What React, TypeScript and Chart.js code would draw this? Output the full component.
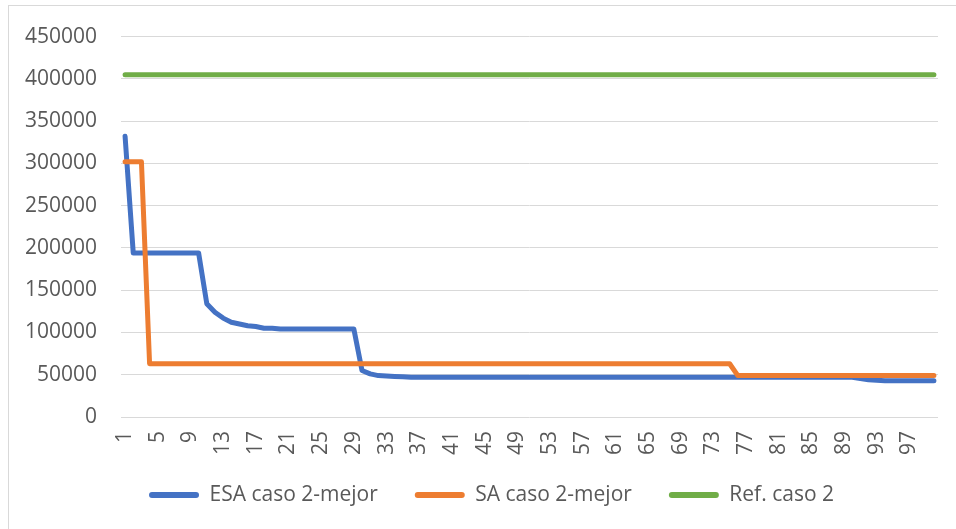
import React, { useEffect, useRef } from "react";
import { Chart, registerables } from "chart.js";

Chart.register(...registerables);

const categories = [
  1, 2, 3, 4, 5, 6, 7, 8, 9, 10,
  11, 12, 13, 14, 15, 16, 17, 18, 19, 20,
  21, 22, 23, 24, 25, 26, 27, 28, 29, 30,
  31, 32, 33, 34, 35, 36, 37, 38, 39, 40,
  41, 42, 43, 44, 45, 46, 47, 48, 49, 50,
  51, 52, 53, 54, 55, 56, 57, 58, 59, 60,
  61, 62, 63, 64, 65, 66, 67, 68, 69, 70,
  71, 72, 73, 74, 75, 76, 77, 78, 79, 80,
  81, 82, 83, 84, 85, 86, 87, 88, 89, 90,
  91, 92, 93, 94, 95, 96, 97, 98, 99, 100,
];

const esaValues = [
  332000, 194000, 194000, 194000, 194000, 194000, 194000, 194000, 194000, 194000,
  134000, 124000, 117000, 112000, 110000, 108000, 107000, 105000, 105000, 104000,
  104000, 104000, 104000, 104000, 104000, 104000, 104000, 104000, 104000, 55000,
  51000, 49000, 48500, 48000, 47500, 47000, 47000, 47000, 47000, 47000,
  47000, 47000, 47000, 47000, 47000, 47000, 47000, 47000, 47000, 47000,
  47000, 47000, 47000, 47000, 47000, 47000, 47000, 47000, 47000, 47000,
  47000, 47000, 47000, 47000, 47000, 47000, 47000, 47000, 47000, 47000,
  47000, 47000, 47000, 47000, 47000, 47000, 47000, 47000, 47000, 47000,
  47000, 47000, 47000, 47000, 47000, 47000, 47000, 47000, 47000, 47000,
  45500, 44000, 43500, 43000, 43000, 43000, 43000, 43000, 43000, 43000,
];

const saValues = [
  302000, 302000, 302000, 63000, 63000, 63000, 63000, 63000, 63000, 63000,
  63000, 63000, 63000, 63000, 63000, 63000, 63000, 63000, 63000, 63000,
  63000, 63000, 63000, 63000, 63000, 63000, 63000, 63000, 63000, 63000,
  63000, 63000, 63000, 63000, 63000, 63000, 63000, 63000, 63000, 63000,
  63000, 63000, 63000, 63000, 63000, 63000, 63000, 63000, 63000, 63000,
  63000, 63000, 63000, 63000, 63000, 63000, 63000, 63000, 63000, 63000,
  63000, 63000, 63000, 63000, 63000, 63000, 63000, 63000, 63000, 63000,
  63000, 63000, 63000, 63000, 63000, 49000, 49000, 49000, 49000, 49000,
  49000, 49000, 49000, 49000, 49000, 49000, 49000, 49000, 49000, 49000,
  49000, 49000, 49000, 49000, 49000, 49000, 49000, 49000, 49000, 49000,
];

const refValues = [
  405000, 405000, 405000, 405000, 405000, 405000, 405000, 405000, 405000, 405000,
  405000, 405000, 405000, 405000, 405000, 405000, 405000, 405000, 405000, 405000,
  405000, 405000, 405000, 405000, 405000, 405000, 405000, 405000, 405000, 405000,
  405000, 405000, 405000, 405000, 405000, 405000, 405000, 405000, 405000, 405000,
  405000, 405000, 405000, 405000, 405000, 405000, 405000, 405000, 405000, 405000,
  405000, 405000, 405000, 405000, 405000, 405000, 405000, 405000, 405000, 405000,
  405000, 405000, 405000, 405000, 405000, 405000, 405000, 405000, 405000, 405000,
  405000, 405000, 405000, 405000, 405000, 405000, 405000, 405000, 405000, 405000,
  405000, 405000, 405000, 405000, 405000, 405000, 405000, 405000, 405000, 405000,
  405000, 405000, 405000, 405000, 405000, 405000, 405000, 405000, 405000, 405000,
];

const seriesNames = ["ESA caso 2-mejor", "SA caso 2-mejor", "Ref. caso 2"];
const seriesColors = ["#4472C4", "#ED7D31", "#70AD47"];

const yMin = 0;
const yMax = 450000;
const yStep = 50000;

const FONT = "'Open Sans', 'Liberation Sans', sans-serif";
const TEXT = "#595959";
const GRID = "#D9D9D9";

const legendShift = {
  id: "legendShift",
  afterLayout(chart: any) {
    const l = chart.legend;
    if (l) {
      l.left += 45;
      l.top -= 17.5;
      l.bottom -= 17.5;
    }
  },
};

export default function App() {
  const ref = useRef<HTMLCanvasElement | null>(null);

  useEffect(() => {
    if (!ref.current) return;
    const mk = (i: number, data: number[], order: number) => ({
      label: seriesNames[i],
      data,
      borderColor: seriesColors[i],
      backgroundColor: seriesColors[i],
      borderWidth: 5,
      pointRadius: 0,
      pointHoverRadius: 0,
      tension: 0,
      borderCapStyle: "round" as const,
      borderJoinStyle: "round" as const,
      fill: false,
      order,
    });
    const chart = new Chart(ref.current, {
      type: "line",
      data: {
        labels: categories.map(String),
        datasets: [mk(0, esaValues, 3), mk(1, saValues, 2), mk(2, refValues, 1)],
      },
      plugins: [legendShift],
      options: {
        animation: false,
        responsive: false,
        maintainAspectRatio: false,
        layout: { padding: { top: 34, left: 0, right: 18, bottom: 4 } },
        font: { family: FONT, size: 21 },
        scales: {
          x: {
            type: "category",
            offset: true,
            grid: { display: false, drawTicks: false },
            border: { display: false },
            ticks: {
              autoSkip: false,
              minRotation: 90,
              maxRotation: 90,
              padding: 14,
              color: TEXT,
              font: { family: FONT, size: 21 },
              callback: function (this: any, value: any, index: number) {
                return index % 4 === 0 ? this.getLabelForValue(value) : "";
              },
            },
            afterFit: (s: any) => {
              s.height = 48;
              s.paddingLeft = 0;
              s.paddingRight = 0;
            },
          },
          y: {
            min: yMin,
            max: yMax,
            grid: { color: GRID, lineWidth: 1, drawTicks: false },
            border: { display: false },
            ticks: {
              stepSize: yStep,
              padding: 24,
              color: TEXT,
              font: { family: FONT, size: 21 },
              callback: (v: any) => String(v),
            },
            afterFit: (s: any) => {
              s.width = 121;
            },
          },
        },
        plugins: {
          tooltip: { enabled: false },
          legend: {
            position: "bottom",
            maxHeight: 60,
            labels: {
              color: TEXT,
              font: { family: FONT, size: 21 },
              boxWidth: 50,
              boxHeight: 6,
              padding: 37,
              sort: (a: any, b: any) => a.datasetIndex - b.datasetIndex,
              generateLabels: (c: any) => {
                const items = Chart.defaults.plugins.legend.labels.generateLabels(c);
                return items.map((it: any) => ({
                  ...it,
                  fillStyle: seriesColors[it.datasetIndex],
                  strokeStyle: seriesColors[it.datasetIndex],
                  lineWidth: 0,
                  borderRadius: 3,
                }));
              },
              useBorderRadius: true,
              borderRadius: 3,
            },
          },
        },
      } as any,
    });
    return () => chart.destroy();
  }, []);

  return (
    <div style={{ position: "fixed", left: 0, top: 0, width: 956, height: 529, background: "#fff" }}>
      <canvas ref={ref} width={956} height={529} style={{ position: "absolute", left: 0, top: 0, width: 956, height: 529 }} />
      <div style={{ position: "absolute", left: 8, top: 5, width: 948, height: 524, borderLeft: `1px solid ${GRID}`, borderTop: `1px solid ${GRID}`, boxSizing: "border-box", pointerEvents: "none" }} />
    </div>
  );
}
